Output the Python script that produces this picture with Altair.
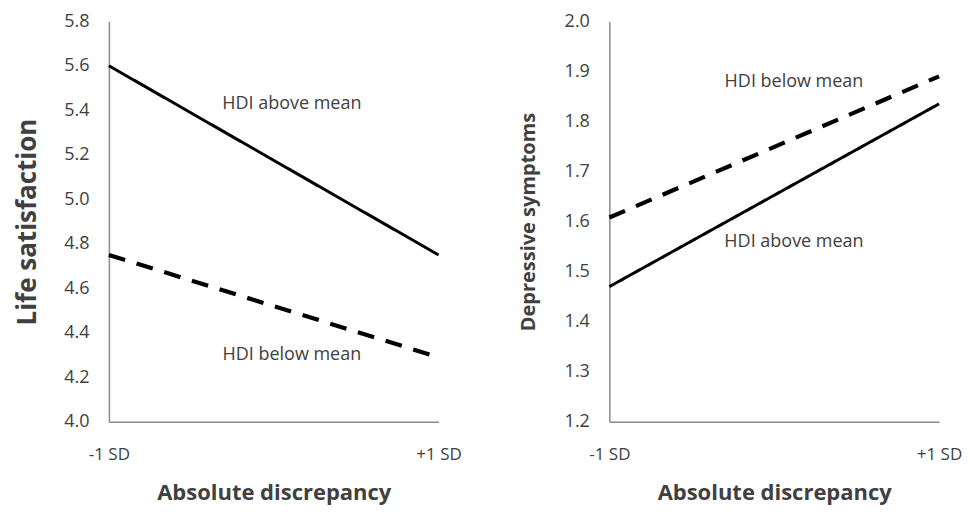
import altair as alt
import pandas as pd

# ---- data ----
x_labels = ["-1 SD", "+1 SD"]
x_pos = [0, 1]
groups = ["HDI above mean", "HDI below mean"]

life_above = [5.60, 4.75]
life_below = [4.75, 4.29]
dep_above = [1.47, 1.835]
dep_below = [1.608, 1.89]

# annotation positions (data units)
life_text_x = [0.555, 0.555]
life_text_y = [5.43, 4.30]
dep_text_x = [0.56, 0.56]
dep_text_y = [1.56, 1.878]

FONT = "Open Sans"


def line_df(above, below):
    rows = []
    for g, vals in zip(groups, [above, below]):
        for x, v in zip(x_pos, vals):
            rows.append({"x": x, "value": v, "group": g})
    return pd.DataFrame(rows)


label_expr = "datum.value == 0 ? '%s' : '%s'" % (x_labels[0], x_labels[1])


def panel(above, below, tx, ty, ydomain, ytitle, title_pad, title_size):
    df = line_df(above, below)
    tdf = pd.DataFrame({"x": tx, "value": ty, "group": groups})
    xenc = alt.X(
        "x:Q",
        scale=alt.Scale(domain=[0, 1], nice=False, zero=False),
        axis=alt.Axis(
            values=x_pos, labelExpr=label_expr, title="Absolute discrepancy",
            grid=False, ticks=False, labelPadding=25, titlePadding=20,
            labelFlush=False, titleFontSize=22, labelFontSize=17,
        ),
    )
    step = 0.2 if ydomain[1] > 3 else 0.1
    n = int(round((ydomain[1] - ydomain[0]) / step))
    yvals = [round(ydomain[0] + i * step, 2) for i in range(n + 1)]
    yenc = alt.Y(
        "value:Q",
        scale=alt.Scale(domain=ydomain, nice=False, zero=False),
        axis=alt.Axis(
            values=yvals, format=".1f", title=ytitle, grid=False, ticks=False,
            labelPadding=20, titlePadding=title_pad, titleFontSize=title_size,
        ),
    )
    lines = alt.Chart(df).mark_line(color="black", strokeCap="butt").encode(
        x=xenc,
        y=yenc,
        strokeDash=alt.StrokeDash(
            "group:N",
            scale=alt.Scale(domain=groups, range=[[1, 0], [17, 12]]),
            legend=None,
        ),
        strokeWidth=alt.StrokeWidth(
            "group:N", scale=alt.Scale(domain=groups, range=[3, 4.2]), legend=None
        ),
        detail="group:N",
    )
    texts = alt.Chart(tdf).mark_text(
        font=FONT, fontSize=18, color="#404040", align="center", baseline="middle"
    ).encode(x="x:Q", y="value:Q", text="group:N")
    return (lines + texts).properties(width=330, height=401)


left = panel(life_above, life_below, life_text_x, life_text_y, [4.0, 5.8],
             "Life satisfaction", 23, 26)
right = panel(dep_above, dep_below, dep_text_x, dep_text_y, [1.2, 2.0],
              "Depressive symptoms", 26, 20)

chart = alt.hconcat(left, right, spacing=56).properties(
    padding={"left": 6, "top": 4, "right": 0, "bottom": 2}
).configure_view(stroke=None).configure_axis(
    domainColor="#8c8c8c", domainWidth=1.5,
    labelFont=FONT, labelFontSize=18, labelColor="#404040",
    titleFont=FONT, titleFontWeight="bold", titleColor="#404040",
)

chart.save("out.html", embed_options={"renderer": "svg", "actions": False})
